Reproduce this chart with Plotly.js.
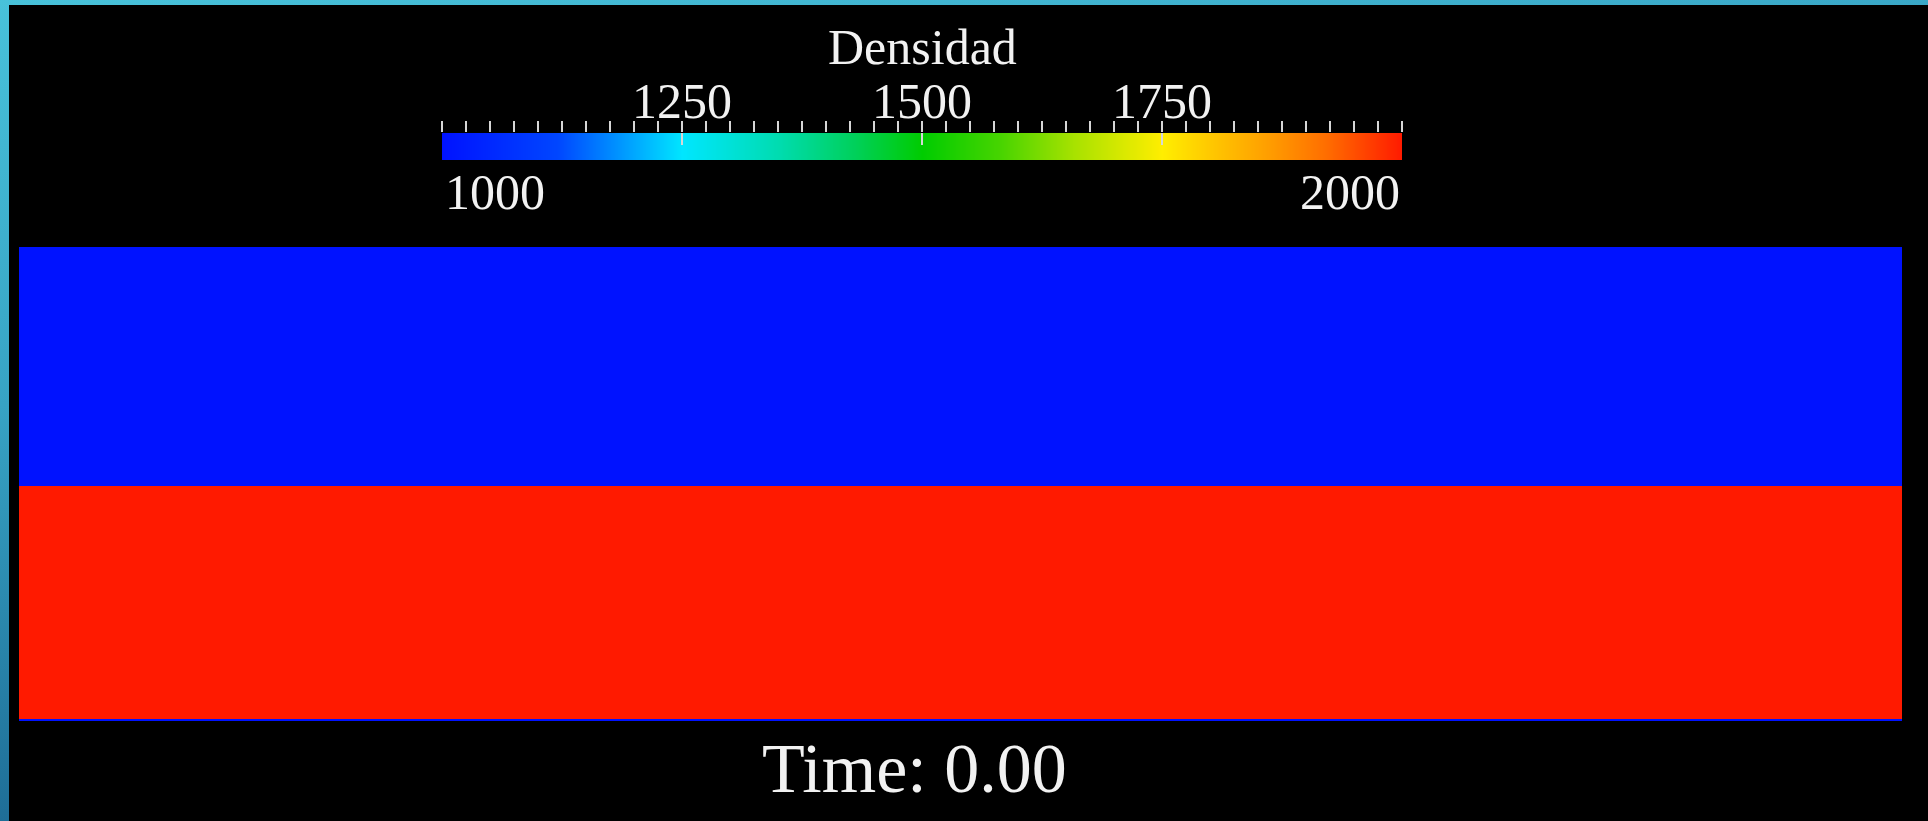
<!DOCTYPE html>
<html>
<head>
<meta charset="utf-8">
<script src="https://cdn.plot.ly/plotly-3.0.1.min.js"></script>
<style>
  html, body { margin: 0; padding: 0; width: 1928px; height: 821px; overflow: hidden; }
  body { background: linear-gradient(170deg, #48c2da 0%, #37a3c4 35%, #1f6f98 70%, #12436c 100%); }
  #plot { width: 1928px; height: 821px; }
</style>
</head>
<body>
<div id="plot"></div>
<script>
// ---- data ----
const domainEdgesX = [0, 4];                 // horizontal extent of the domain
const layerEdgesY = [0, 0.005, 0.496, 1];    // layer boundaries (bottom to top)
const densityLayers = [[1000], [2000], [1000]]; // density of each layer (bottom to top)
const densityRange = [1000, 2000];
const colorbarTickVals = [1250, 1500, 1750];
const colorbarTickText = ['1250', '1500', '1750'];
const colorbarMajorTicks = [1000, 1250, 1500, 1750, 2000];
const colorbarEndLabels = ['1000', '2000'];
const colorbarTitle = 'Densidad';
const timeLabel = 'Time: 0.00';

const rainbow = [
  [0.00, 'rgb(0,18,255)'],
  [0.12, 'rgb(0,70,255)'],
  [0.20, 'rgb(0,168,255)'],
  [0.25, 'rgb(0,230,255)'],
  [0.35, 'rgb(0,220,176)'],
  [0.43, 'rgb(0,208,90)'],
  [0.50, 'rgb(0,204,0)'],
  [0.58, 'rgb(70,212,0)'],
  [0.66, 'rgb(170,226,0)'],
  [0.75, 'rgb(255,238,0)'],
  [0.80, 'rgb(255,200,0)'],
  [0.86, 'rgb(255,158,0)'],
  [0.92, 'rgb(255,110,0)'],
  [1.00, 'rgb(255,26,0)']
];

const W = 1928, H = 821;
const px = v => v / W;
const py = v => (H - v) / H;
const serif = 'Liberation Serif, Times New Roman, serif';
const tickCol = '#d6d6d6';

const traces = [
  {
    type: 'heatmap',
    x: domainEdgesX,
    y: layerEdgesY,
    z: densityLayers,
    colorscale: rainbow,
    zmin: densityRange[0], zmax: densityRange[1],
    showscale: false,
    hoverinfo: 'skip',
    xaxis: 'x', yaxis: 'y'
  },
  {
    type: 'heatmap',
    x: densityRange,
    y: [0, 1],
    z: [densityRange, densityRange],
    zsmooth: 'best',
    colorscale: rainbow,
    zmin: densityRange[0], zmax: densityRange[1],
    showscale: false,
    hoverinfo: 'skip',
    xaxis: 'x2', yaxis: 'y2'
  },
  {
    type: 'scatter', x: [], y: [], xaxis: 'x3', yaxis: 'y2',
    hoverinfo: 'skip', showlegend: false
  }
];

const hidden = { visible: false, fixedrange: true, showgrid: false, zeroline: false };

const layout = {
  width: W, height: H,
  margin: { l: 0, r: 0, t: 0, b: 0, pad: 0 },
  paper_bgcolor: 'rgba(0,0,0,0)',
  plot_bgcolor: 'rgba(0,0,0,0)',
  showlegend: false,
  xaxis: Object.assign({}, hidden, { domain: [px(19), px(1902)], range: domainEdgesX, anchor: 'y' }),
  yaxis: Object.assign({}, hidden, { domain: [py(721), py(247)], range: [0, 1], anchor: 'x' }),
  xaxis2: {
    domain: [px(442), px(1402)], range: densityRange, anchor: 'y2', side: 'top',
    tickmode: 'array', tickvals: colorbarTickVals, ticktext: colorbarTickText,
    ticks: 'outside', ticklen: 11, tickwidth: 1.5, tickcolor: tickCol,
    ticklabelstandoff: -17,
    tickfont: { family: serif, size: 50, color: '#f2f2f2' },
    minor: { ticks: 'outside', ticklen: 11, tickwidth: 1.5, tickcolor: tickCol, dtick: 25, tick0: 1000, showgrid: false },
    showgrid: false, zeroline: false, showline: false, fixedrange: true
  },
  xaxis3: {
    overlaying: 'x2', range: densityRange, anchor: 'y2', side: 'top',
    tickmode: 'array', tickvals: colorbarMajorTicks, showticklabels: false,
    ticks: 'inside', ticklen: 12, tickwidth: 1.5, tickcolor: tickCol,
    showgrid: false, zeroline: false, showline: false, fixedrange: true
  },
  yaxis2: Object.assign({}, hidden, { domain: [py(160), py(133)], range: [0, 1], anchor: 'x2' }),
  shapes: [
    { type: 'rect', xref: 'paper', yref: 'paper', x0: px(9), x1: 1, y0: 0, y1: py(5),
      fillcolor: '#000000', line: { width: 0 }, layer: 'below' }
  ],
  annotations: [
    { text: colorbarTitle, xref: 'paper', yref: 'paper', x: px(922), y: py(47),
      xanchor: 'center', yanchor: 'middle', showarrow: false,
      font: { family: serif, size: 50, color: '#f2f2f2' } },
    { text: colorbarEndLabels[0], xref: 'x2', yref: 'paper', x: densityRange[0], y: py(192),
      xanchor: 'left', yanchor: 'middle', showarrow: false, xshift: 1,
      font: { family: serif, size: 50, color: '#f2f2f2' } },
    { text: colorbarEndLabels[1], xref: 'x2', yref: 'paper', x: densityRange[1], y: py(192),
      xanchor: 'right', yanchor: 'middle', showarrow: false, xshift: 0,
      font: { family: serif, size: 50, color: '#f2f2f2' } },
    { text: timeLabel, xref: 'paper', yref: 'paper', x: px(914), y: py(768),
      xanchor: 'center', yanchor: 'middle', showarrow: false,
      font: { family: serif, size: 70, color: '#f2f2f2' } }
  ]
};

Plotly.newPlot('plot', traces, layout, { staticPlot: true, displayModeBar: false });
</script>
</body>
</html>
